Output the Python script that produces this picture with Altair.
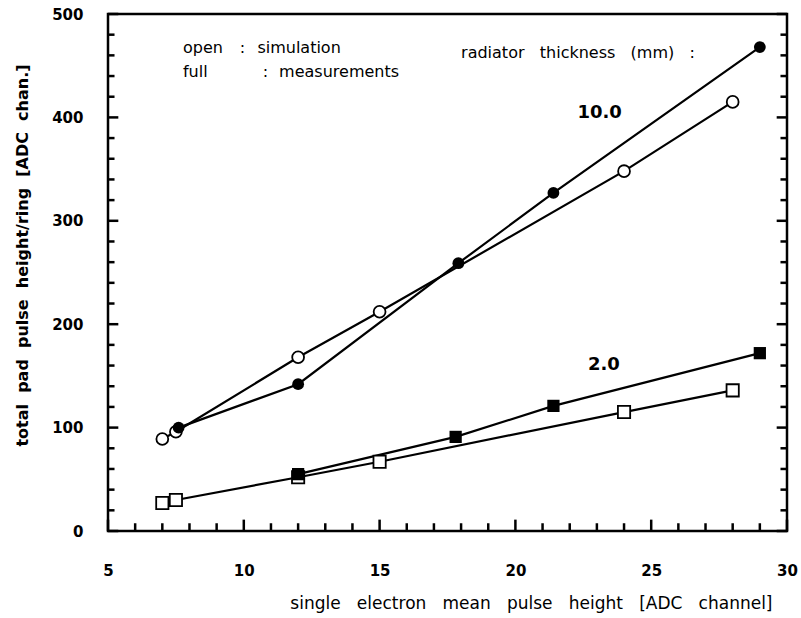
import altair as alt
import pandas as pd

# Simulated (open markers) and measured (filled markers) pulse heights
sim_x = [7.0, 7.5, 12.0, 15.0, 24.0, 28.0]
sim_10mm = [89, 96, 168, 212, 348, 415]
sim_2mm = [27, 30, 52, 67, 115, 136]

meas10_x = [7.6, 12.0, 17.9, 21.4, 29.0]
meas10_y = [100, 142, 259, 327, 468]
meas2_x = [12.0, 17.8, 21.4, 29.0]
meas2_y = [55, 91, 121, 172]

x_ticks = [5, 10, 15, 20, 25, 30]
y_ticks = [0, 100, 200, 300, 400, 500]

FONT = "DejaVu Sans"


def spaced(s, n=2):
    # non-breaking spaces keep the wide word gaps in SVG text
    return ("\u00a0" * n).join(s.split(" "))


rows = []
for x, y in zip(sim_x, sim_10mm):
    rows.append(dict(x=x, y=y, series="sim10"))
for x, y in zip(meas10_x, meas10_y):
    rows.append(dict(x=x, y=y, series="meas10"))
for x, y in zip(sim_x, sim_2mm):
    rows.append(dict(x=x, y=y, series="sim2"))
for x, y in zip(meas2_x, meas2_y):
    rows.append(dict(x=x, y=y, series="meas2"))
df = pd.DataFrame(rows)

xs = alt.Scale(domain=[5, 30], nice=False, zero=False)
ys = alt.Scale(domain=[0, 500], nice=False)

x_axis = alt.Axis(values=x_ticks, ticks=False, domain=False, grid=False,
                  labelFont=FONT, labelFontSize=15, labelFontWeight="bold",
                  labelColor="black", labelPadding=32, labelFlush=False,
                  title=spaced("single electron mean pulse height [ADC channel]", 3),
                  titleFont=FONT, titleFontSize=17, titleFontWeight="normal",
                  titleColor="black", titleAnchor="end", titleAlign="right",
                  titleX=664, titleY=72, titleBaseline="middle")
y_axis = alt.Axis(values=y_ticks, ticks=False, domain=False, grid=False,
                  labelFont=FONT, labelFontSize=15, labelFontWeight="bold",
                  labelColor="black", labelPadding=25, labelFlush=False,
                  title=spaced("total pad pulse height/ring [ADC chan.]"),
                  titleFont=FONT, titleFontSize=16, titleFontWeight="bold",
                  titleColor="black", titleAngle=270, titleX=-86, titleY=241,
                  titleAlign="center", titleBaseline="middle")

base = alt.Chart(df)

lines = base.mark_line(color="black", strokeWidth=2.2).encode(
    x=alt.X("x:Q", scale=xs, axis=x_axis),
    y=alt.Y("y:Q", scale=ys, axis=y_axis),
    detail="series:N",
)

open_circles = base.transform_filter("datum.series == 'sim10'").mark_point(
    shape="circle", size=140, filled=True, fill="white", stroke="black",
    strokeWidth=1.8, opacity=1).encode(x="x:Q", y="y:Q")
filled_circles = base.transform_filter("datum.series == 'meas10'").mark_point(
    shape="circle", size=140, filled=True, color="black", opacity=1).encode(x="x:Q", y="y:Q")
open_squares = base.transform_filter("datum.series == 'sim2'").mark_point(
    shape="square", size=150, filled=True, fill="white", stroke="black",
    strokeWidth=1.8, opacity=1).encode(x="x:Q", y="y:Q")
filled_squares = base.transform_filter("datum.series == 'meas2'").mark_point(
    shape="square", size=150, filled=True, color="black", opacity=1).encode(x="x:Q", y="y:Q")

# Inward-pointing frame ticks: short segments given by start/end in data units
seg = []
for v in range(5, 31):
    seg.append(dict(xa=v, xb=v, ya=0, yb=11 if v % 5 == 0 else 7.5))
for v in range(0, 501, 20):
    major = v % 100 == 0
    seg.append(dict(xa=5, xb=5.38 if major else 5.24, ya=v, yb=v))
    seg.append(dict(xa=30, xb=29.62 if major else 29.76, ya=v, yb=v))
ticks_df = pd.DataFrame(seg)

frame_ticks = alt.Chart(ticks_df).mark_rule(color="black", strokeWidth=2.5).encode(
    x=alt.X("xa:Q", scale=xs), x2="xb:Q",
    y=alt.Y("ya:Q", scale=ys), y2="yb:Q",
)

# Legend-like annotations
notes = pd.DataFrame([
    dict(t="open", x=7.76, y=467),
    dict(t=":", x=9.85, y=467),
    dict(t="simulation", x=10.5, y=467),
    dict(t="full", x=7.76, y=444),
    dict(t=":", x=10.7, y=444),
    dict(t="measurements", x=11.3, y=444),
    dict(t=spaced("radiator thickness (mm) :", 3), x=18.0, y=462),
])
note_text = alt.Chart(notes).mark_text(font=FONT, fontSize=16, align="left",
                                       baseline="middle", color="black").encode(
    x=alt.X("x:Q", scale=xs), y=alt.Y("y:Q", scale=ys), text="t:N")

values = pd.DataFrame([dict(t="10.0", x=23.1, y=404), dict(t="2.0", x=23.26, y=161)])
value_text = alt.Chart(values).mark_text(font=FONT, fontSize=18, fontWeight="bold",
                                         align="center", baseline="middle",
                                         color="black").encode(
    x=alt.X("x:Q", scale=xs), y=alt.Y("y:Q", scale=ys), text="t:N")

chart = alt.layer(
    frame_ticks, lines, open_circles, filled_circles, open_squares, filled_squares,
    note_text, value_text,
).properties(
    width=679, height=517,
    autosize=alt.AutoSizeParams(type="none"),
    padding={"left": 108, "top": 14, "right": 14, "bottom": 87},
    background="white",
).configure_view(stroke="black", strokeWidth=2.5)

chart.save("out.html", embed_options={"renderer": "svg", "actions": False})
